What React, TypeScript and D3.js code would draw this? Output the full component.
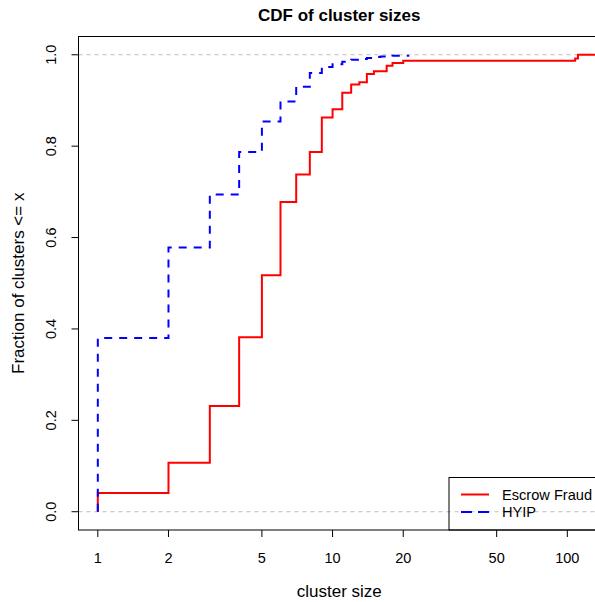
import React from "react";
import * as d3 from "d3";

// cluster size -> cumulative fraction
const escrowSizes = [1, 2, 3, 4, 5, 6, 7, 8, 9, 10, 11, 12, 13, 14, 15, 17, 18, 20, 108, 111];
const escrowCdf = [0.041, 0.107, 0.2315, 0.382, 0.5175, 0.678, 0.738, 0.787, 0.863, 0.881, 0.917, 0.935, 0.94, 0.958, 0.964, 0.976, 0.982, 0.987, 0.992, 1.0];

const hyipSizes = [1, 2, 3, 4, 5, 6, 7, 8, 9, 10, 11, 12, 13, 14, 15, 16, 18, 21];
const hyipCdf = [0.38, 0.578, 0.694, 0.787, 0.854, 0.898, 0.93, 0.96, 0.973, 0.979, 0.985, 0.989, 0.991, 0.993, 0.995, 0.996, 0.998, 1.0];

const xTicks = [1, 2, 5, 10, 20, 50, 100];
const yTicks = [0, 0.2, 0.4, 0.6, 0.8, 1.0];

const seriesNames = ["Escrow Fraud", "HYIP"];
const seriesColors = ["#ff0000", "#0000ff"];

const width = 595;
const height = 602;
const plot = { left: 78.5, right: 600, top: 36.5, bottom: 530 };
const font = "'Liberation Sans', Arial, Helvetica, sans-serif";

export default function App() {
  // R style 4% padding on the log axis
  const lmax = Math.log10(114);
  const x = d3
    .scaleLog()
    .domain([Math.pow(10, -0.04 * lmax), Math.pow(10, 1.04 * lmax)])
    .range([plot.left, plot.right]);
  const y = d3.scaleLinear().domain([-0.04, 1.04]).range([plot.bottom, plot.top]);

  const line = d3
    .line<[number, number]>()
    .x((d) => x(d[0]))
    .y((d) => y(d[1]))
    .curve(d3.curveStepAfter);

  const escrowPts: [number, number][] = [[escrowSizes[0], 0]];
  escrowSizes.forEach((s, i) => escrowPts.push([s, escrowCdf[i]]));
  escrowPts.push([x.domain()[1], escrowCdf[escrowCdf.length - 1]]);

  const hyipPts: [number, number][] = [[hyipSizes[0], 0]];
  hyipSizes.forEach((s, i) => hyipPts.push([s, hyipCdf[i]]));

  const cx = (plot.left + plot.right) / 2;
  const cy = (plot.top + plot.bottom) / 2;

  return (
    <svg
      width={width}
      height={height}
      style={{ position: "absolute", left: 0, top: 0, background: "white" }}
      fontFamily={font}
    >
      <defs>
        <clipPath id="plotClip">
          <rect x={plot.left} y={plot.top} width={plot.right - plot.left} height={plot.bottom - plot.top} />
        </clipPath>
      </defs>

      <text x={cx} y={21} textAnchor="middle" fontSize={17} fontWeight="bold">
        CDF of cluster sizes
      </text>

      <g clipPath="url(#plotClip)">
        {[0, 1].map((v) => (
          <line
            key={v}
            x1={plot.left}
            x2={plot.right}
            y1={y(v)}
            y2={y(v)}
            stroke="#bebebe"
            strokeWidth={1}
            strokeDasharray="4,4"
          />
        ))}
        <path d={line(escrowPts) || ""} fill="none" stroke={seriesColors[0]} strokeWidth={2} />
        <path
          d={line(hyipPts) || ""}
          fill="none"
          stroke={seriesColors[1]}
          strokeWidth={2}
          strokeDasharray="8,7"
        />
      </g>

      <rect
        x={plot.left}
        y={plot.top}
        width={plot.right - plot.left}
        height={plot.bottom - plot.top}
        fill="none"
        stroke="black"
        strokeWidth={1}
      />

      {/* x axis */}
      <g>
        {xTicks.map((t) => (
          <g key={t}>
            <line x1={x(t)} x2={x(t)} y1={plot.bottom} y2={plot.bottom + 7} stroke="black" />
            <text x={x(t)} y={563} textAnchor="middle" fontSize={14.5}>
              {t}
            </text>
          </g>
        ))}
        <text x={cx} y={597} textAnchor="middle" fontSize={17}>
          cluster size
        </text>
      </g>

      {/* y axis */}
      <g>
        {yTicks.map((t) => (
          <g key={t}>
            <line x1={plot.left - 7} x2={plot.left} y1={y(t)} y2={y(t)} stroke="black" />
            <text
              transform={`translate(56,${y(t)}) rotate(-90)`}
              textAnchor="middle"
              fontSize={14.5}
            >
              {t.toFixed(1)}
            </text>
          </g>
        ))}
        <text transform={`translate(24,${cy}) rotate(-90)`} textAnchor="middle" fontSize={17}>
          {"Fraction of clusters <= x"}
        </text>
      </g>

      {/* legend */}
      <g>
        <rect x={449} y={477.5} width={160} height={plot.bottom - 477.5} fill="none" stroke="black" />
        {seriesNames.map((name, i) => {
          const ly = 494.5 + i * 17.5;
          return (
            <g key={name}>
              <line
                x1={461}
                x2={489}
                y1={ly}
                y2={ly}
                stroke={seriesColors[i]}
                strokeWidth={2}
                strokeDasharray={i === 1 ? "11,6" : undefined}
              />
              <text x={502} y={ly + 5} fontSize={14.6}>
                {name}
              </text>
            </g>
          );
        })}
      </g>
    </svg>
  );
}
